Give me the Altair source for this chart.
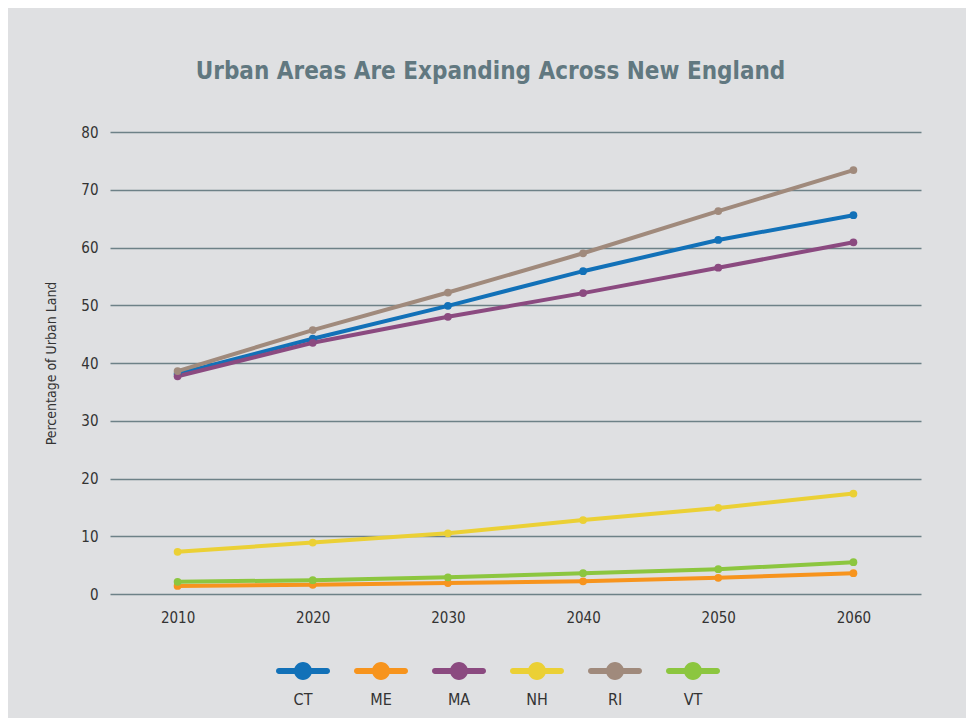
import altair as alt
import pandas as pd

years = [2010, 2020, 2030, 2040, 2050, 2060]
states = ["CT", "ME", "MA", "NH", "RI", "VT"]
ct = [38.1, 44.2, 49.9, 55.9, 61.3, 65.6]
me = [1.4, 1.6, 1.9, 2.2, 2.8, 3.6]
ma = [37.7, 43.5, 48.0, 52.1, 56.5, 60.9]
nh = [7.3, 8.9, 10.5, 12.8, 14.9, 17.4]
ri = [38.6, 45.7, 52.2, 59.0, 66.3, 73.4]
vt = [2.1, 2.4, 2.9, 3.6, 4.3, 5.5]
colors = ["#1271b8", "#f7941d", "#8b4a80", "#ebd035", "#a08a7c", "#8cc63f"]

series = {"CT": ct, "ME": me, "MA": ma, "NH": nh, "RI": ri, "VT": vt}
rows = []
for s in states:
    for y, v in zip(years, series[s]):
        rows.append({"Year": y, "State": s, "Value": v})
df = pd.DataFrame(rows)

FONT = "DejaVu Sans Condensed, Roboto, sans-serif"
BG = "#dfe0e2"
GRID = "#6d8187"

# legend glyph: a bar with a dot, drawn above the label (units of 9px)
legend_symbol = (
    "M-1.67,-3.55 L3.67,-3.55 A0.33,0.33 0 0,1 3.67,-2.89 "
    "L-1.67,-2.89 A0.33,0.33 0 0,1 -1.67,-3.55 Z "
    "M0,-3.22 A1,1 0 1,1 2,-3.22 A1,1 0 1,1 0,-3.22 Z"
)

color = alt.Color(
    "State:N",
    scale=alt.Scale(domain=states, range=colors),
    sort=states,
    legend=alt.Legend(
        title=None,
        orient="none",
        direction="horizontal",
        legendX=175,
        legendY=559,
        symbolType=legend_symbol,
        symbolSize=324,
        symbolStrokeWidth=0,
        symbolOpacity=1,
        labelFont=FONT,
        labelFontSize=16,
        labelColor="#333333",
        labelAlign="center",
        labelBaseline="middle",
        labelOffset=0,
        columnPadding=24,
        gridAlign="all",
        padding=0,
    ),
)

x = alt.X(
    "Year:Q",
    scale=alt.Scale(domain=[2005, 2065], nice=False),
    axis=alt.Axis(
        values=years, format="d", title=None, grid=False, domain=False, ticks=False,
        labelFont=FONT, labelFontSize=15, labelColor="#333333", labelPadding=16,
    ),
)
y = alt.Y(
    "Value:Q",
    scale=alt.Scale(domain=[0, 80], nice=False),
    axis=alt.Axis(
        values=list(range(0, 81, 10)), title="Percentage of Urban Land",
        grid=True, gridColor=GRID, gridWidth=1.5, domain=False, ticks=False,
        labelFont=FONT, labelFontSize=15, labelColor="#333333", labelPadding=12,
        titleFont=FONT, titleFontSize=14, titleFontWeight="normal", titleColor="#333333",
        titlePadding=22,
    ),
)

base = alt.Chart(df).encode(x=x, y=y, color=color)
lines = base.mark_line(strokeWidth=4)
points = base.mark_point(filled=True, size=60, opacity=1)

chart = (
    alt.layer(lines, points)
    .properties(
        width=811,
        height=462,
        background=BG,
        padding={"left": 102, "top": 124, "right": 45, "bottom": 124},
        autosize=alt.AutoSizeParams(type="none"),
        title=alt.TitleParams(
            "Urban Areas Are Expanding Across New England",
            font=FONT, fontSize=24, fontWeight="bold", color="#617880",
            anchor="middle", baseline="alphabetic", offset=22, dx=-25,
        ),
    )
    .configure_view(stroke=None)
)

chart.save("out.html", embed_options={"renderer": "svg", "actions": False})
